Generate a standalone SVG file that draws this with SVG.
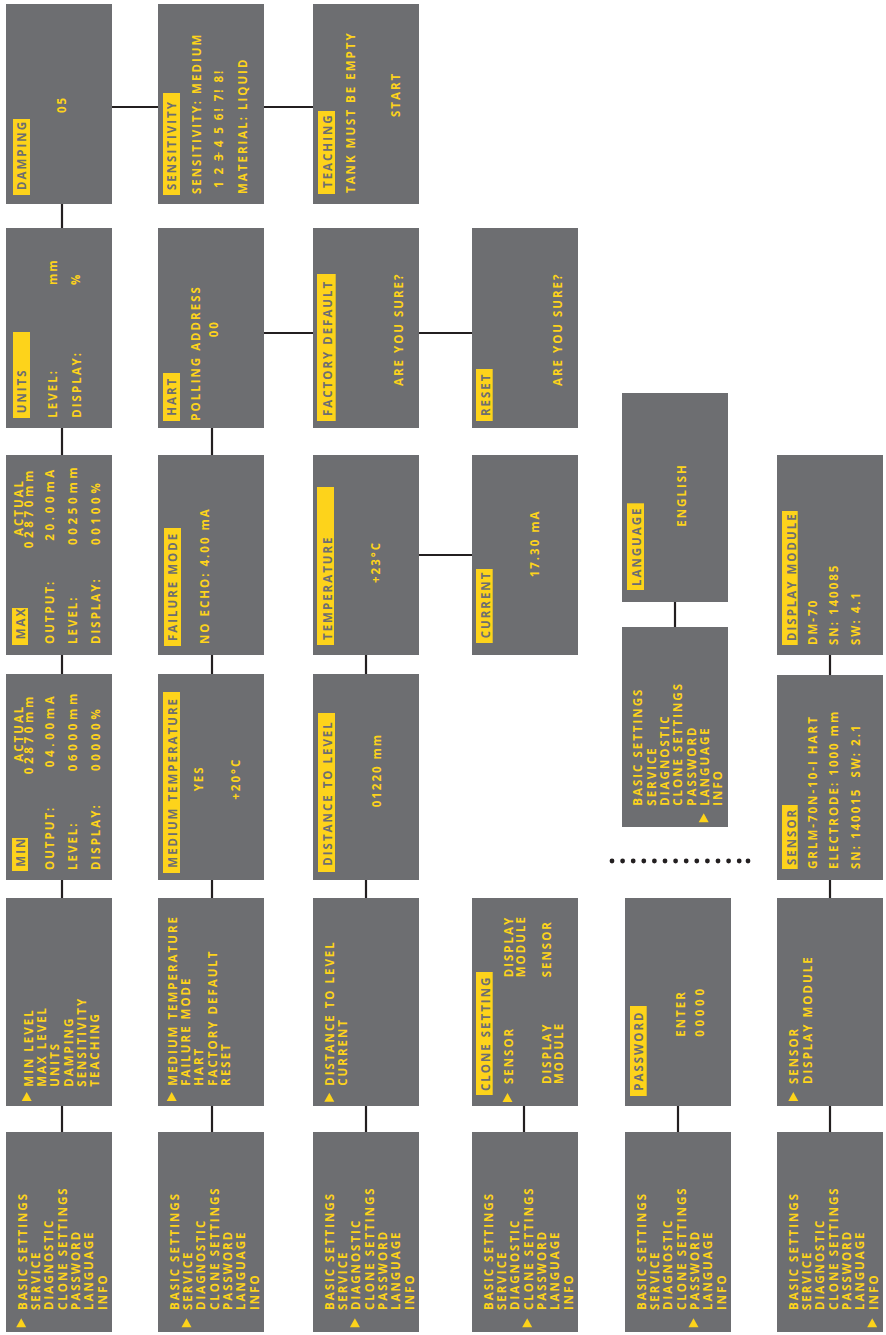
<svg xmlns="http://www.w3.org/2000/svg" xmlns:xlink="http://www.w3.org/1999/xlink" width="886" height="1335" viewBox="0 0 886 1335">
<style>
.bx{fill:#6d6e71}
.hl{fill:#fdd31b}
text{font-family:"Open Sans","DejaVu Sans",sans-serif;font-weight:700;font-size:11.5px;letter-spacing:2px;fill:#fdd31b}
text.d{fill:#6d6e71}
.w{letter-spacing:3.7px}
.ln{stroke:#231f20;stroke-width:2.2;fill:none}
.tri{fill:#fdd31b}
.dot{fill:#231f20}
</style>
<defs>
<path id="tri" class="tri" d="M0,0 L9,5 L0,10 Z"/>
</defs>
<rect width="886" height="1335" fill="#ffffff"/>
<g id="connectors">
<line class="ln" x1="62" y1="204" x2="62" y2="229"/>
<line class="ln" x1="62" y1="428" x2="62" y2="455"/>
<line class="ln" x1="62" y1="655" x2="62" y2="675"/>
<line class="ln" x1="62" y1="880" x2="62" y2="898"/>
<line class="ln" x1="62" y1="1106" x2="62" y2="1132"/>
<line class="ln" x1="212" y1="428" x2="212" y2="455"/>
<line class="ln" x1="212" y1="655" x2="212" y2="675"/>
<line class="ln" x1="212" y1="880" x2="212" y2="898"/>
<line class="ln" x1="212" y1="1106" x2="212" y2="1132"/>
<line class="ln" x1="366" y1="655" x2="366" y2="675"/>
<line class="ln" x1="366" y1="880" x2="366" y2="898"/>
<line class="ln" x1="366" y1="1106" x2="366" y2="1132"/>
<line class="ln" x1="524" y1="1106" x2="524" y2="1132"/>
<line class="ln" x1="675" y1="602" x2="675" y2="627"/>
<line class="ln" x1="678" y1="1106" x2="678" y2="1132"/>
<line class="ln" x1="830" y1="655" x2="830" y2="675"/>
<line class="ln" x1="830" y1="880" x2="830" y2="898"/>
<line class="ln" x1="830" y1="1106" x2="830" y2="1132"/>
<line class="ln" x1="112" y1="107" x2="158" y2="107"/>
<line class="ln" x1="264" y1="107" x2="313" y2="107"/>
<line class="ln" x1="264" y1="333" x2="313" y2="333"/>
<line class="ln" x1="419" y1="333" x2="472" y2="333"/>
<line class="ln" x1="419" y1="555" x2="472" y2="555"/>
<g id="dots">
<circle class="dot" cx="612" cy="861" r="2.4"/><circle class="dot" cx="622.6" cy="861" r="2.4"/><circle class="dot" cx="633.2" cy="861" r="2.4"/><circle class="dot" cx="643.8" cy="861" r="2.4"/><circle class="dot" cx="654.4" cy="861" r="2.4"/><circle class="dot" cx="665" cy="861" r="2.4"/><circle class="dot" cx="675.6" cy="861" r="2.4"/><circle class="dot" cx="686.2" cy="861" r="2.4"/><circle class="dot" cx="696.8" cy="861" r="2.4"/><circle class="dot" cx="707.4" cy="861" r="2.4"/><circle class="dot" cx="718" cy="861" r="2.4"/><circle class="dot" cx="728.6" cy="861" r="2.4"/><circle class="dot" cx="739.2" cy="861" r="2.4"/><circle class="dot" cx="748" cy="861" r="2.4"/>
</g>
</g>

<g id="damping" transform="translate(6,204) rotate(-90)">
<rect class="bx" width="200" height="106"/>
<rect class="hl" x="9" y="7" width="76" height="17"/>
<text class="d" x="14" y="20">DAMPING</text>
<text x="91" y="60">05</text>
</g>
<g id="sensitivity" transform="translate(158,204) rotate(-90)">
<rect class="bx" width="200" height="106"/>
<rect class="hl" x="9" y="5" width="102" height="17"/>
<text class="d" x="14" y="18">SENSITIVITY</text>
<text x="10" y="42.7">SENSITIVITY: MEDIUM</text>
<text x="16" y="64.7">1 2 <tspan text-decoration="line-through">3</tspan> 4 5 6! 7! 8!</text>
<text x="10" y="88.7">MATERIAL: LIQUID</text>
</g>
<g id="teaching" transform="translate(313,204) rotate(-90)">
<rect class="bx" width="200" height="106"/>
<rect class="hl" x="10" y="5" width="83" height="17"/>
<text class="d" x="16" y="18.7">TEACHING</text>
<text x="11" y="42">TANK MUST BE EMPTY</text>
<text x="87" y="87">START</text>
</g>

<g id="units" transform="translate(6,428) rotate(-90)">
<rect class="bx" width="200" height="106"/>
<rect class="hl" x="10" y="7" width="86" height="17"/>
<text class="d" x="14.7" y="20">UNITS</text>
<text x="10.3" y="51.3">LEVEL:</text>
<text x="10.3" y="74.7">DISPLAY:</text>
<text x="143" y="51.3">mm</text>
<text x="143" y="74">%</text>
</g>
<g id="hart" transform="translate(158,428) rotate(-90)">
<rect class="bx" width="200" height="106"/>
<rect class="hl" x="7" y="5" width="48" height="17"/>
<text class="d" x="12.3" y="18">HART</text>
<text x="7.3" y="42">POLLING ADDRESS</text>
<text x="90.7" y="60.3">00</text>
</g>
<g id="factory-default" transform="translate(313,428) rotate(-90)">
<rect class="bx" width="200" height="106"/>
<rect class="hl" x="7" y="4" width="147" height="18.7"/>
<text class="d" x="12" y="19.3">FACTORY DEFAULT</text>
<text x="42" y="90.3">ARE YOU SURE?</text>
</g>
<g id="reset" transform="translate(472,428) rotate(-90)">
<rect class="bx" width="200" height="106"/>
<rect class="hl" x="7" y="4" width="52" height="16.7"/>
<text class="d" x="12" y="18">RESET</text>
<text x="42" y="89.7">ARE YOU SURE?</text>
</g>

<g id="max" transform="translate(6,655) rotate(-90)">
<rect class="bx" width="200" height="106"/>
<rect class="hl" x="10" y="6" width="37" height="16"/>
<text class="d" x="15.7" y="19">MAX</text>
<text x="119" y="17.3">ACTUAL</text>
<text class="w" x="106.7" y="27.3">02870mm</text>
<text x="11" y="48">OUTPUT:</text>
<text x="11" y="70.7">LEVEL:</text>
<text x="11" y="94">DISPLAY:</text>
<text class="w" x="114.3" y="48">20.00mA</text>
<text class="w" x="110" y="70.7">00250mm</text>
<text class="w" x="110" y="94">00100%</text>
</g>
<g id="failure-mode" transform="translate(158,655) rotate(-90)">
<rect class="bx" width="200" height="106"/>
<rect class="hl" x="9" y="6" width="118" height="17"/>
<text class="d" x="14" y="18.7">FAILURE MODE</text>
<text x="11" y="51.3">NO ECHO: 4.00 mA</text>
</g>
<g id="temperature" transform="translate(313,655) rotate(-90)">
<rect class="bx" width="200" height="106"/>
<rect class="hl" x="10" y="4" width="158" height="17"/>
<text class="d" x="15" y="18.7">TEMPERATURE</text>
<text x="72" y="67">+23°C</text>
</g>
<g id="current" transform="translate(472,655) rotate(-90)">
<rect class="bx" width="200" height="106"/>
<rect class="hl" x="12" y="4" width="74" height="16.7"/>
<text class="d" x="16.7" y="18">CURRENT</text>
<text x="77.7" y="67.3">17.30 mA</text>
</g>
<g id="display-module" transform="translate(777,655) rotate(-90)">
<rect class="bx" width="200" height="106"/>
<rect class="hl" x="10" y="5" width="134" height="15.7"/>
<text class="d" x="14" y="18.7">DISPLAY MODULE</text>
<text x="10" y="39.7">DM-70</text>
<text x="10" y="61.3">SN: 140085</text>
<text x="10" y="83">SW: 4.1</text>
</g>

<g id="language" transform="translate(622,602) rotate(-90)">
<rect class="bx" width="209" height="106"/>
<rect class="hl" x="12" y="5" width="86.7" height="17"/>
<text class="d" x="16" y="18.7">LANGUAGE</text>
<text x="75.3" y="63.7">ENGLISH</text>
</g>
<g id="language-menu" transform="translate(622,827) rotate(-90)">
<rect class="bx" width="200" height="106"/>
<use xlink:href="#tri" x="4.7" y="76.7"/>
<text x="21.3"><tspan x="21.3" y="20.3">BASIC SETTINGS</tspan><tspan x="21.3" y="33.7">SERVICE</tspan><tspan x="21.3" y="47">DIAGNOSTIC</tspan><tspan x="21.3" y="60.3">CLONE SETTINGS</tspan><tspan x="21.3" y="73.7">PASSWORD</tspan><tspan x="21.3" y="87">LANGUAGE</tspan><tspan x="21.3" y="100.3">INFO</tspan></text>
</g>

<g id="min" transform="translate(6,880) rotate(-90)">
<rect class="bx" width="206" height="106"/>
<rect class="hl" x="9" y="6" width="33" height="16"/>
<text class="d" x="13.3" y="19">MIN</text>
<text x="118.3" y="17.3">ACTUAL</text>
<text class="w" x="105.7" y="27.3">02870mm</text>
<text x="10" y="48.3">OUTPUT:</text>
<text x="10" y="71">LEVEL:</text>
<text x="10" y="94">DISPLAY:</text>
<text class="w" x="112.7" y="48.3">04.00mA</text>
<text class="w" x="108.7" y="71">06000mm</text>
<text class="w" x="109" y="94">00000%</text>
</g>
<g id="medium-temperature" transform="translate(158,880) rotate(-90)">
<rect class="bx" width="206" height="106"/>
<rect class="hl" x="7" y="5" width="181" height="17"/>
<text class="d" x="12.3" y="18.7">MEDIUM TEMPERATURE</text>
<text x="88.7" y="44.7">YES</text>
<text x="80.3" y="82">+20°C</text>
</g>
<g id="distance-to-level" transform="translate(313,880) rotate(-90)">
<rect class="bx" width="206" height="106"/>
<rect class="hl" x="8" y="5" width="159" height="17"/>
<text class="d" x="14.3" y="18.7">DISTANCE TO LEVEL</text>
<text x="72.7" y="67.7">01220 mm</text>
</g>
<g id="sensor" transform="translate(777,880) rotate(-90)">
<rect class="bx" width="205" height="106"/>
<rect class="hl" x="11" y="5" width="64" height="15.7"/>
<text class="d" x="15" y="18.7">SENSOR</text>
<text x="11" y="39.7">GRLM-70N-10-I HART</text>
<text x="11" y="61.3">ELECTRODE: 1000 mm</text>
<text x="11" y="83">SN: 140015&#160; SW: 2.1</text>
</g>

<g id="menu-basic" transform="translate(6,1106) rotate(-90)">
<rect class="bx" width="208" height="106"/>
<use xlink:href="#tri" x="5" y="15.7"/>
<text><tspan x="19.3" y="26.7">MIN LEVEL</tspan><tspan x="19.3" y="40">MAX LEVEL</tspan><tspan x="19.3" y="53.3">UNITS</tspan><tspan x="19.3" y="66.7">DAMPING</tspan><tspan x="19.3" y="80">SENSITIVITY</tspan><tspan x="19.3" y="93.3">TEACHING</tspan></text>
</g>
<g id="menu-service" transform="translate(158,1106) rotate(-90)">
<rect class="bx" width="208" height="106"/>
<use xlink:href="#tri" x="5" y="8.7"/>
<text><tspan x="20.3" y="18.7">MEDIUM TEMPERATURE</tspan><tspan x="20.3" y="32">FAILURE MODE</tspan><tspan x="20.3" y="45.3">HART</tspan><tspan x="20.3" y="58.7">FACTORY DEFAULT</tspan><tspan x="20.3" y="72">RESET</tspan></text>
</g>
<g id="menu-diagnostic" transform="translate(313,1106) rotate(-90)">
<rect class="bx" width="208" height="106"/>
<use xlink:href="#tri" x="4.3" y="11.3"/>
<text><tspan x="20.3" y="21.3">DISTANCE TO LEVEL</tspan><tspan x="20.3" y="34.3">CURRENT</tspan></text>
</g>
<g id="menu-clone" transform="translate(472,1106) rotate(-90)">
<rect class="bx" width="208" height="106"/>
<rect class="hl" x="11" y="4" width="123" height="16.7"/>
<text class="d" x="15" y="18">CLONE SETTING</text>
<use xlink:href="#tri" x="4" y="30.5"/>
<text x="22" y="40.7">SENSOR</text>
<text x="128.7" y="40.7">DISPLAY</text>
<text x="128.7" y="53">MODULE</text>
<text x="128.7" y="79">SENSOR</text>
<text x="22" y="79">DISPLAY</text>
<text x="22" y="91.3">MODULE</text>
</g>
<g id="password" transform="translate(625,1106) rotate(-90)">
<rect class="bx" width="208" height="106"/>
<rect class="hl" x="10" y="5" width="90" height="16.7"/>
<text class="d" x="15.3" y="18.3">PASSWORD</text>
<text x="69.3" y="60">ENTER</text>
<text x="69.3" y="79" class="w">00000</text>
</g>
<g id="menu-info" transform="translate(777,1106) rotate(-90)">
<rect class="bx" width="208" height="106"/>
<use xlink:href="#tri" x="5" y="11.3"/>
<text><tspan x="22" y="21.3">SENSOR</tspan><tspan x="22" y="34.7">DISPLAY MODULE</tspan></text>
</g>

<g id="main-1" transform="translate(6,1332) rotate(-90)">
<rect class="bx" width="200" height="106"/>
<use xlink:href="#tri" x="4.7" y="10.2"/>
<text><tspan x="22" y="20.5">BASIC SETTINGS</tspan><tspan x="22" y="33.8">SERVICE</tspan><tspan x="22" y="47.2">DIAGNOSTIC</tspan><tspan x="22" y="60.5">CLONE SETTINGS</tspan><tspan x="22" y="73.8">PASSWORD</tspan><tspan x="22" y="87.2">LANGUAGE</tspan><tspan x="22" y="100.5">INFO</tspan></text>
</g>
<g id="main-2" transform="translate(158,1332) rotate(-90)">
<rect class="bx" width="200" height="106"/>
<use xlink:href="#tri" x="4.7" y="23.5"/>
<text><tspan x="22" y="20.5">BASIC SETTINGS</tspan><tspan x="22" y="33.8">SERVICE</tspan><tspan x="22" y="47.2">DIAGNOSTIC</tspan><tspan x="22" y="60.5">CLONE SETTINGS</tspan><tspan x="22" y="73.8">PASSWORD</tspan><tspan x="22" y="87.2">LANGUAGE</tspan><tspan x="22" y="100.5">INFO</tspan></text>
</g>
<g id="main-3" transform="translate(313,1332) rotate(-90)">
<rect class="bx" width="200" height="106"/>
<use xlink:href="#tri" x="4.7" y="36.9"/>
<text><tspan x="22" y="20.5">BASIC SETTINGS</tspan><tspan x="22" y="33.8">SERVICE</tspan><tspan x="22" y="47.2">DIAGNOSTIC</tspan><tspan x="22" y="60.5">CLONE SETTINGS</tspan><tspan x="22" y="73.8">PASSWORD</tspan><tspan x="22" y="87.2">LANGUAGE</tspan><tspan x="22" y="100.5">INFO</tspan></text>
</g>
<g id="main-4" transform="translate(472,1332) rotate(-90)">
<rect class="bx" width="200" height="106"/>
<use xlink:href="#tri" x="4.7" y="50.2"/>
<text><tspan x="22" y="20.5">BASIC SETTINGS</tspan><tspan x="22" y="33.8">SERVICE</tspan><tspan x="22" y="47.2">DIAGNOSTIC</tspan><tspan x="22" y="60.5">CLONE SETTINGS</tspan><tspan x="22" y="73.8">PASSWORD</tspan><tspan x="22" y="87.2">LANGUAGE</tspan><tspan x="22" y="100.5">INFO</tspan></text>
</g>
<g id="main-5" transform="translate(625,1332) rotate(-90)">
<rect class="bx" width="200" height="106"/>
<use xlink:href="#tri" x="4.7" y="63.5"/>
<text><tspan x="22" y="20.5">BASIC SETTINGS</tspan><tspan x="22" y="33.8">SERVICE</tspan><tspan x="22" y="47.2">DIAGNOSTIC</tspan><tspan x="22" y="60.5">CLONE SETTINGS</tspan><tspan x="22" y="73.8">PASSWORD</tspan><tspan x="22" y="87.2">LANGUAGE</tspan><tspan x="22" y="100.5">INFO</tspan></text>
</g>
<g id="main-6" transform="translate(777,1332) rotate(-90)">
<rect class="bx" width="200" height="106"/>
<use xlink:href="#tri" x="4.7" y="90.2"/>
<text><tspan x="22" y="20.5">BASIC SETTINGS</tspan><tspan x="22" y="33.8">SERVICE</tspan><tspan x="22" y="47.2">DIAGNOSTIC</tspan><tspan x="22" y="60.5">CLONE SETTINGS</tspan><tspan x="22" y="73.8">PASSWORD</tspan><tspan x="22" y="87.2">LANGUAGE</tspan><tspan x="22" y="100.5">INFO</tspan></text>
</g>
</svg>
